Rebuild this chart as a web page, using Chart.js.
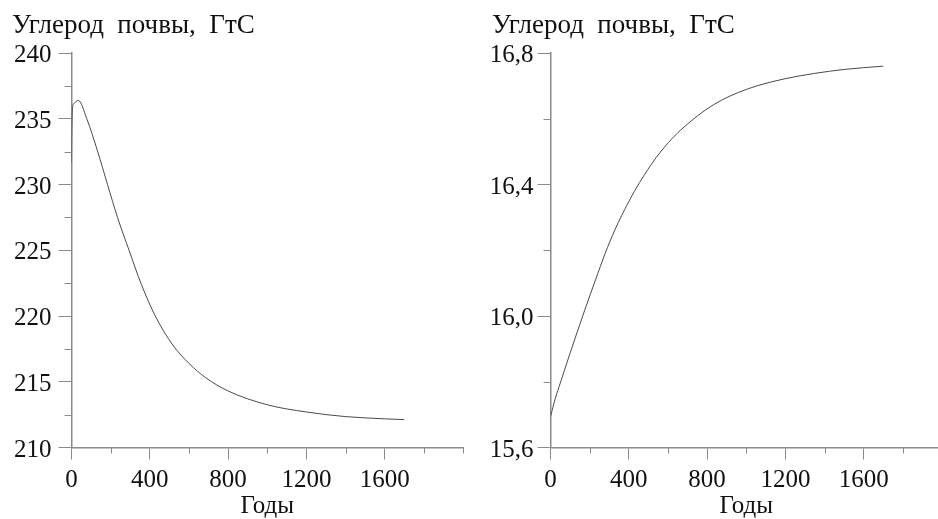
<!DOCTYPE html>
<html>
<head>
<meta charset="utf-8">
<script src="https://cdn.jsdelivr.net/npm/chart.js@4"></script>
<style>
  html, body { margin: 0; padding: 0; background: #fff; overflow: hidden; width: 938px; height: 519px; }
  canvas { position: absolute; top: 0; }
  #leftChart { left: 0; }
  #rightChart { left: 470px; }
</style>
</head>
<body>
<canvas id="leftChart" width="469" height="519"></canvas>
<canvas id="rightChart" width="478" height="519"></canvas>
<script>
// Soil carbon, left panel (GtC)
const leftYears = [0, 2, 5, 15, 35, 78, 134, 184, 235, 294, 357, 428, 517, 600, 686, 800, 1000, 1200, 1400, 1600, 1700];
const leftCarbon = [231.7, 234.4, 235.8, 236.2, 236.4, 235.0, 232.5, 230.0, 227.5, 225.0, 222.4, 220.0, 217.8, 216.4, 215.3, 214.3, 213.25, 212.7, 212.35, 212.18, 212.12];

// Soil carbon, right panel (GtC)
const rightYears = [0, 25, 50, 100, 175, 230, 279, 329, 400, 455, 540, 623, 708, 792, 875, 960, 1060, 1200, 1350, 1500, 1700];
const rightCarbon = [15.694, 15.75, 15.796, 15.887, 16.018, 16.11, 16.19, 16.262, 16.348, 16.406, 16.482, 16.541, 16.588, 16.627, 16.657, 16.68, 16.701, 16.722, 16.738, 16.75, 16.76];

const titleText = 'Углерод  почвы,  ГтС';
const xTitle = 'Годы';

const axisColor = '#8a8a8a';
const lineColor = '#4a4a4a';
const fontFamily = "'Liberation Serif', 'DejaVu Serif', serif";

const isMajorX = v => v % 400 === 0 && v < 2000;

// short ticks between the labelled ones
const minorTicks = {
  id: 'minorTicks',
  afterDraw(chart, args, opts) {
    const ctx = chart.ctx;
    const xs = chart.scales.x, ys = chart.scales.y;
    ctx.save();
    ctx.strokeStyle = axisColor;
    ctx.lineWidth = 1;
    ctx.beginPath();
    xs.ticks.forEach(t => {
      if (isMajorX(t.value)) return;
      const px = Math.round(xs.getPixelForValue(t.value)) + 0.5;
      ctx.moveTo(px, xs.top);
      ctx.lineTo(px, xs.top + 6);
    });
    ys.ticks.forEach(t => {
      if (opts.isMajorY(t.value)) return;
      const py = Math.round(ys.getPixelForValue(t.value)) + 0.5;
      ctx.moveTo(ys.right, py);
      ctx.lineTo(ys.right - 7, py);
    });
    ctx.stroke();
    ctx.restore();
  }
};

function makeChart(id, years, values, y, pad) {
  const data = years.map((yr, i) => ({ x: yr, y: values[i] }));
  return new Chart(document.getElementById(id), {
    type: 'line',
    data: {
      datasets: [{
        data: data,
        borderColor: lineColor,
        borderWidth: 1,
        pointRadius: 0,
        fill: false,
        cubicInterpolationMode: 'monotone'
      }]
    },
    plugins: [minorTicks],
    options: {
      responsive: false,
      animation: false,
      devicePixelRatio: 1,
      layout: { padding: { left: pad.left, right: pad.right, top: 0, bottom: 0 } },
      plugins: {
        legend: { display: false },
        tooltip: { enabled: false },
        title: {
          display: true,
          text: titleText,
          align: 'start',
          color: '#111',
          font: { family: fontFamily, size: 27, weight: 'normal', lineHeight: 1.2 },
          padding: { top: 10, bottom: 10.6 }
        },
        minorTicks: { isMajorY: y.isMajor }
      },
      scales: {
        x: {
          type: 'linear',
          min: 0,
          max: 2000,
          afterFit: s => { s.height = 71.5; },
          border: { display: true, color: axisColor, width: 1.5 },
          grid: {
            drawOnChartArea: false,
            drawTicks: true,
            tickLength: 12,
            tickColor: c => isMajorX(c.tick.value) ? axisColor : 'rgba(0,0,0,0)'
          },
          ticks: {
            stepSize: 200,
            autoSkip: false,
            maxRotation: 0,
            padding: 6,
            color: '#111',
            font: { family: fontFamily, size: 25, lineHeight: 1.2 },
            callback: v => isMajorX(v) ? String(v) : ''
          },
          title: {
            display: true,
            text: xTitle,
            color: '#111',
            font: { family: fontFamily, size: 25, lineHeight: 1.0 },
            padding: { top: 0, bottom: 0 }
          }
        },
        y: {
          min: y.min,
          max: y.max,
          afterFit: s => { s.width = pad.yWidth; },
          border: { display: true, color: axisColor, width: 1.5 },
          grid: {
            drawOnChartArea: false,
            drawTicks: true,
            tickLength: 13,
            tickColor: c => y.isMajor(c.tick.value) ? axisColor : 'rgba(0,0,0,0)'
          },
          ticks: {
            stepSize: y.step,
            autoSkip: false,
            padding: pad.labelPad,
            labelOffset: 2.5,
            color: '#111',
            font: { family: fontFamily, size: 25, lineHeight: 1.2 },
            callback: v => y.isMajor(v) ? y.format(v) : ''
          }
        }
      }
    }
  });
}

makeChart('leftChart', leftYears, leftCarbon, {
  min: 210, max: 240, step: 2.5,
  isMajor: v => Math.abs(v % 5) < 1e-6,
  format: v => String(v)
}, { left: 12, right: 2.5, yWidth: 59.5, labelPad: 7 });

makeChart('rightChart', rightYears, rightCarbon, {
  min: 15.6, max: 16.8, step: 0.2,
  isMajor: v => Math.round(v * 10) % 4 === 0,
  format: v => v.toFixed(1).replace('.', ',')
}, { left: 22, right: 1.5, yWidth: 58.5, labelPad: 4 });
</script>
</body>
</html>
